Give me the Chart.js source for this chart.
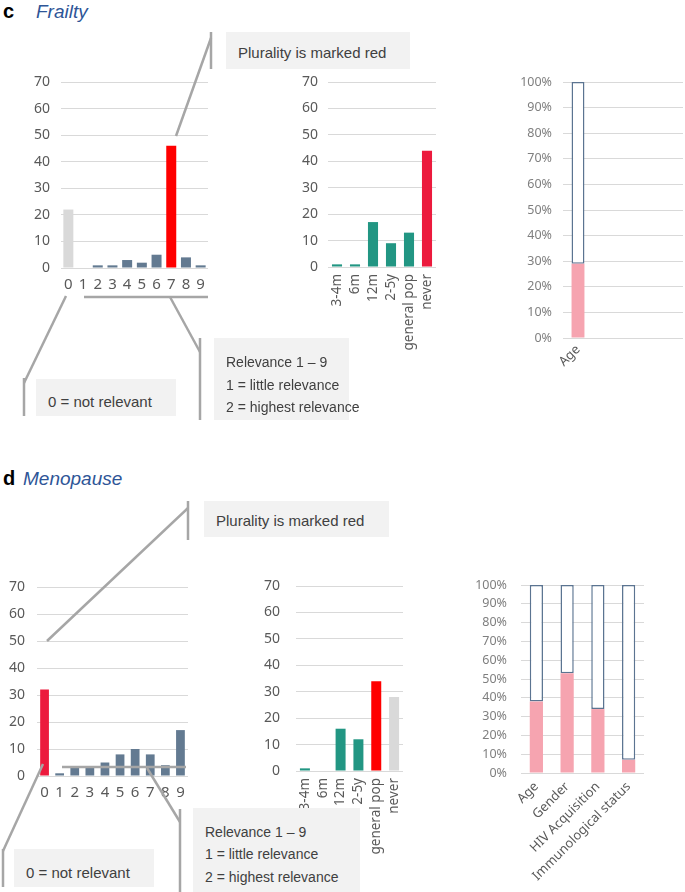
<!DOCTYPE html>
<html>
<head>
<meta charset="utf-8">
<script src="https://cdn.jsdelivr.net/npm/chart.js@4.4.1/dist/chart.umd.min.js"></script>
<style>
body { margin: 0; background: #fff; }
#wrap { position: relative; width: 685px; height: 892px; overflow: hidden; font-family: "Liberation Sans", Arial, sans-serif; }
canvas { position: absolute; }
.box { position: absolute; background: #f2f2f2; color: #404040; font-size: 14px; box-sizing: border-box; }
.box div { position: absolute; left: 12px; white-space: nowrap; line-height: 16px; }
.lbl { position: absolute; font-weight: bold; font-size: 20px; color: #000; }
.ttl { position: absolute; font-style: italic; font-size: 19px; color: #2e5597; }
svg { position: absolute; left: 0; top: 0; }
</style>
</head>
<body>
<div id="wrap">
  <canvas id="c1"></canvas>
  <canvas id="c2"></canvas>
  <canvas id="c3"></canvas>
  <canvas id="d1"></canvas>
  <canvas id="d2"></canvas>
  <canvas id="d3"></canvas>

  <div class="lbl" style="left:3px;top:0px;">c</div>
  <div class="ttl" style="left:36px;top:1px;">Frailty</div>
  <div class="lbl" style="left:3px;top:467px;">d</div>
  <div class="ttl" style="left:23px;top:468px;">Menopause</div>

  <div class="box" style="left:226px;top:32px;width:184px;height:37px;font-size:15px;"><div style="top:13px;">Plurality is marked red</div></div>
  <div class="box" style="left:36px;top:379px;width:140px;height:37px;font-size:15px;"><div style="top:15px;">0 = not relevant</div></div>
  <div class="box" style="left:214px;top:338px;width:135px;height:82px;">
    <div style="top:16px;">Relevance 1 – 9</div>
    <div style="top:39px;">1 = little relevance</div>
    <div style="top:61px;">2 = highest relevance</div>
  </div>

  <div class="box" style="left:204px;top:501px;width:185px;height:36px;font-size:15px;"><div style="top:12px;">Plurality is marked red</div></div>
  <div class="box" style="left:14px;top:849px;width:140px;height:38px;font-size:15px;"><div style="top:16px;">0 = not relevant</div></div>
  <div class="box" style="left:193px;top:808px;width:167px;height:90px;">
    <div style="top:16px;">Relevance 1 – 9</div>
    <div style="top:38px;">1 = little relevance</div>
    <div style="top:61px;">2 = highest relevance</div>
  </div>

  <svg width="685" height="892" stroke="#a6a6a6" stroke-width="2.5" fill="none">
    <line x1="211" y1="32" x2="211" y2="69"/>
    <line x1="211" y1="38" x2="176" y2="136"/>
    <line x1="84" y1="297" x2="208" y2="297"/>
    <line x1="170" y1="297" x2="200" y2="352"/>
    <line x1="200" y1="338" x2="200" y2="420"/>
    <line x1="66" y1="296" x2="24" y2="383"/>
    <line x1="24" y1="378" x2="24" y2="416"/>

    <line x1="188" y1="501" x2="188" y2="540"/>
    <line x1="188" y1="508" x2="47" y2="641"/>
    <line x1="43" y1="764" x2="3" y2="851"/>
    <line x1="3" y1="849" x2="3" y2="887"/>
    <line x1="62" y1="767" x2="186" y2="767"/>
    <line x1="147" y1="768" x2="180" y2="822"/>
    <line x1="180" y1="809" x2="180" y2="892"/>
  </svg>
</div>

<script>
// relevance scores 0-9
var scoreLabels = ['0', '1', '2', '3', '4', '5', '6', '7', '8', '9'];
// how often to screen
var timeLabels = ['3-4m', '6m', '12m', '2-5y', 'general pop', 'never'];

var frailtyScores = [22, 0, 1, 1, 3, 2, 5, 46, 4, 1];
var frailtyTiming = [1, 1, 17, 9, 13, 44];
var frailtyFactors = ['Age', '', '', ''];
var frailtyYes = [29, null, null, null];
var frailtyNo = [71, null, null, null];

var menoScores = [32, 1, 3, 3, 5, 8, 10, 8, 4, 17];
var menoTiming = [1, 0, 16, 12, 34, 28];
var menoFactors = ['Age', 'Gender', 'HIV Acquisition', 'Immunological status'];
var menoYes = [38, 53, 34, 7];
var menoNo = [62, 47, 66, 93];

var grey = '#d9d9d9', slate = '#637a91', red = '#ff0000', crimson = '#ec1a3d', teal = '#229683';
var tickFamily = '"Noto Sans", sans-serif';

function place(id, area, yW, xH) {
  // area = plot box [left, top, right, bottom]
  var c = document.getElementById(id);
  var left = area[0] - yW, top = area[1] - 10;
  var w = area[2] - left + 2, h = area[3] + xH - top;
  c.width = w; c.height = h;
  c.style.left = left + 'px'; c.style.top = top + 'px';
  c.style.width = w + 'px'; c.style.height = h + 'px';
  return c;
}

function makeBar(id, area, yW, xH, labels, datasets, o) {
  var c = place(id, area, yW, xH);
  return new Chart(c.getContext('2d'), {
    type: 'bar',
    data: { labels: labels, datasets: datasets },
    options: {
      responsive: false,
      animation: false,
      layout: { padding: { top: 10, right: 2, left: 0, bottom: 0 } },
      plugins: { legend: { display: false }, tooltip: { enabled: false } },
      scales: {
        x: {
          stacked: !!o.stacked,
          grid: { display: false, drawTicks: false },
          border: { display: false },
          ticks: {
            color: '#595959', font: { family: tickFamily, size: o.xSize || 13.5 },
            padding: o.xPad, minRotation: o.rot, maxRotation: o.rot, autoSkip: false
          },
          afterFit: function (s) { s.height = xH; s.paddingLeft = 0; s.paddingRight = 0; }
        },
        y: {
          stacked: !!o.stacked,
          min: 0, max: o.max,
          grid: { color: grey, lineWidth: 1, drawTicks: false },
          border: { display: false },
          ticks: {
            stepSize: 10, padding: o.yPad,
            color: o.pct ? '#7f7f7f' : '#595959',
            font: { family: tickFamily, size: o.pct ? 12.5 : 14 },
            callback: function (v) { return o.pct ? v + '%' : v; }
          },
          afterFit: function (s) { s.width = yW; s.paddingTop = 0; s.paddingBottom = 0; }
        }
      }
    }
  });
}

function single(data, colors, bp) {
  return [{ data: data, backgroundColor: colors, categoryPercentage: 1, barPercentage: bp, borderWidth: 0 }];
}

function stackedPct(yes, no) {
  return [
    { data: yes, backgroundColor: '#f6a4b0', borderWidth: 0, categoryPercentage: 1, barPercentage: 0.43 },
    { data: no, backgroundColor: '#ffffff', borderColor: '#5b7491', borderWidth: 1.5, borderSkipped: false,
      categoryPercentage: 1, barPercentage: 0.43 }
  ];
}

// Frailty
makeBar('c1', [61, 82, 208, 268], 40, 30, scoreLabels,
  single(frailtyScores, [grey, slate, slate, slate, slate, slate, slate, red, slate, slate], 0.68),
  { max: 70, yPad: 11, xPad: 8, rot: 0, xSize: 15 });
makeBar('c2', [328, 82, 436, 267], 40, 100, timeLabels,
  single(frailtyTiming, [teal, teal, teal, teal, teal, crimson], 0.56),
  { max: 70, yPad: 10, xPad: 7, rot: 90 });
makeBar('c3', [563, 82, 683, 338], 52, 30, frailtyFactors,
  stackedPct(frailtyYes, frailtyNo),
  { max: 100, yPad: 11, xPad: 4, rot: 45, pct: true, stacked: true, xSize: 13 });

// Menopause
makeBar('d1', [37, 587, 188, 776], 37, 30, scoreLabels,
  single(menoScores, [crimson, slate, slate, slate, slate, slate, slate, slate, slate, slate], 0.58),
  { max: 70, yPad: 12, xPad: 8, rot: 0, xSize: 15 });
makeBar('d2', [296, 586, 403, 771], 40, 100, timeLabels,
  single(menoTiming, [teal, teal, teal, teal, red, grey], 0.56),
  { max: 70, yPad: 16, xPad: 7, rot: 90 });
makeBar('d3', [521, 585, 644, 773], 52, 120, menoFactors,
  stackedPct(menoYes, menoNo),
  { max: 100, yPad: 14, xPad: 6, rot: 45, pct: true, stacked: true, xSize: 13 });
</script>
</body>
</html>
